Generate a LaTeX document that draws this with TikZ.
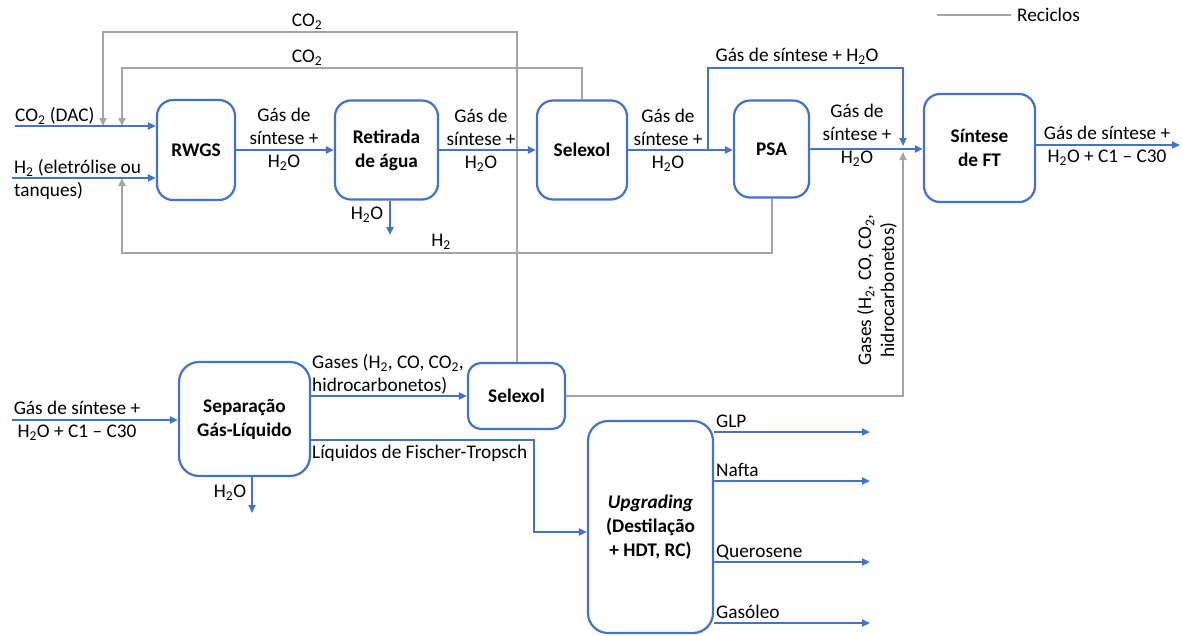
\documentclass[tikz,border=0pt]{standalone}
\usepackage{fontspec}
\setmainfont{Carlito}
\usepackage{tikz}
\usetikzlibrary{arrows.meta,positioning,calc}
\definecolor{azul}{RGB}{68,114,196}
\definecolor{cinza}{RGB}{165,165,165}
\newcommand{\agua}{H\textsubscript{2}O}
\newcommand{\codois}{CO\textsubscript{2}}
\newcommand{\hdois}{H\textsubscript{2}}

\begin{document}
\begin{tikzpicture}[
        x=1pt,y=-1pt,
        font=\fontsize{19.3}{23}\selectfont,
        caixa/.style={draw=azul,line width=2.2pt,rounded corners=16pt,fill=white,
                      font=\fontsize{19.3}{24}\selectfont\bfseries,
                      align=center,inner sep=0pt},
        rotulo/.style={inner sep=0pt,align=center},
        fluxo/.style={draw=azul,line width=2pt,-{Triangle[length=8pt,width=7pt]}},
        reciclo/.style={draw=cinza,line width=2pt,-{Triangle[length=8pt,width=7pt]}}]
        \useasboundingbox (0,0) rectangle (1182,635);
        % unidades
        \node[caixa,minimum width=78pt,minimum height=100pt] (rwgs) at (196,150) {RWGS};
        \node[caixa,minimum width=103pt,minimum height=99pt] (ret) at (386.5,150) {Retirada\\de água};
        \node[caixa,minimum width=90pt,minimum height=99pt] (sel1) at (582,150) {Selexol};
        \node[caixa,minimum width=75pt,minimum height=97pt] (psa) at (771.5,149) {PSA};
        \node[caixa,minimum width=111pt,minimum height=108pt] (ft) at (979.5,148) {Síntese\\de FT};
        \node[caixa,minimum width=131pt,minimum height=114pt,rounded corners=20pt]
          (sep) at (244.5,419) {Separação\\Gás-Líquido};
        \node[caixa,minimum width=97pt,minimum height=66pt,rounded corners=13pt]
          (sel2) at (516.5,396) {Selexol};
        \node[caixa,minimum width=125pt,minimum height=212pt,rounded corners=20pt]
          (upg) at (650.5,527) {\textit{Upgrading}\\(Destilação\\+ HDT, RC)};
        % pontos livres
        \coordinate (entCO2) at (15,126);
        \coordinate (entH2) at (12,178);
        \coordinate (saiFT) at (1180,145);
        \coordinate (desvio) at (708,150);
        \coordinate (jcima) at (903,146);
        \coordinate (jbaixo) at (903,152);
        \coordinate (aguaRet) at (390,235);
        \coordinate (volta1) at (103,126);
        \coordinate (volta2) at (122,126);
        \coordinate (volta3) at (122,178);
        \coordinate (entSep) at (12,420);
        \coordinate (aguaSep) at (252,513);
        \coordinate (liq) at (534,532);
        \coordinate (legIni) at (937,15);
        % reciclos
        \draw[reciclo] (sel2.north) |- (volta1 |- 0,32) -- (volta1);
        \draw[reciclo] (sel1.north) |- (volta2 |- 0,68) -- (volta2);
        \draw[reciclo] (psa.south) |- (volta3 |- 0,253) -- (volta3);
        \draw[reciclo] (sel2.east) -| (jbaixo);
        % fluxos principais
        \draw[fluxo] (entCO2) -- (entCO2 -| rwgs.west);
        \draw[fluxo] (entH2) -- (entH2 -| rwgs.west);
        \draw[fluxo] (rwgs) -- (ret);
        \draw[fluxo] (ret) -- (sel1);
        \draw[fluxo] (sel1.east) -- (sel1.east -| psa.west);
        \draw[fluxo] (psa.east) -- (psa.east -| ft.west);
        \draw[fluxo] (ft.east |- saiFT) -- (saiFT);
        \draw[fluxo] (desvio) |- (jcima |- 0,68) -- (jcima);
        \draw[fluxo] (ret.south -| aguaRet) -- (aguaRet);
        \draw[fluxo] (entSep) -- (entSep -| sep.west);
        \draw[fluxo] (sep.east |- sel2) -- (sel2.west);
        \draw[fluxo] (sep.south -| aguaSep) -- (aguaSep);
        \draw[fluxo] (sep.east |- 0,440) -| (liq) -- (liq -| upg.west);
        \foreach \y/\prod [count=\i] in {432/GLP,481/Nafta,562/Querosene,623/Gasóleo}{
          \coordinate (saida\i) at (870,\y);
          \draw[fluxo] (upg.east |- saida\i) -- (saida\i);
          \node[rotulo,anchor=base west] (prod\i) at (716,\y-5) {\prod};
        }
        % legenda
        \node[rotulo,anchor=west] (legenda) at (1017,15) {Reciclos};
        \draw[cinza,line width=2pt,shorten >=6pt] (legIni) -- (legenda.west);
        % rotulos
        \node[rotulo,anchor=west] (rCO2) at (15,116) {\codois\ (DAC)};
        \node[rotulo,anchor=west,align=left] (rH2) at (14,179) {\hdois\ (eletrólise ou\\tanques)};
        \node[rotulo] (r1) at (284,139) {Gás de\\síntese +\\\agua};
        \node[rotulo] (r2) at (481,140) {Gás de\\síntese +\\\agua};
        \node[rotulo] (r3) at (668,140) {Gás de\\síntese +\\\agua};
        \node[rotulo] (r4) at (857,135) {Gás de\\síntese +\\\agua};
        \node[rotulo] (r5) at (1107,146) {Gás de síntese +\\\agua{} + C1 – C30};
        \node[rotulo] (rDesvio) at (797,56) {Gás de síntese + \agua};
        \node[rotulo] (rAguaRet) at (367,215) {\agua};
        \node[rotulo] (rVolta1) at (307,22) {\codois};
        \node[rotulo] (rVolta2) at (307,58) {\codois};
        \node[rotulo] (rVolta3) at (441,242) {\hdois};
        \node[rotulo,rotate=90] (rGasesV) at (877,290) {Gases (\hdois, CO, \codois,\\hidrocarbonetos)};
        \node[rotulo] (rEntSep) at (77,421) {Gás de síntese +\\\agua{} + C1 – C30};
        \node[rotulo] (rAguaSep) at (230,493) {\agua};
        \node[rotulo,anchor=west,align=left] (rGases) at (312,374) {Gases (\hdois, CO, \codois,\\hidrocarbonetos)};
        \node[rotulo,anchor=west] (rLiq) at (312,453) {Líquidos de Fischer-Tropsch};
      \end{tikzpicture}
\end{document}
